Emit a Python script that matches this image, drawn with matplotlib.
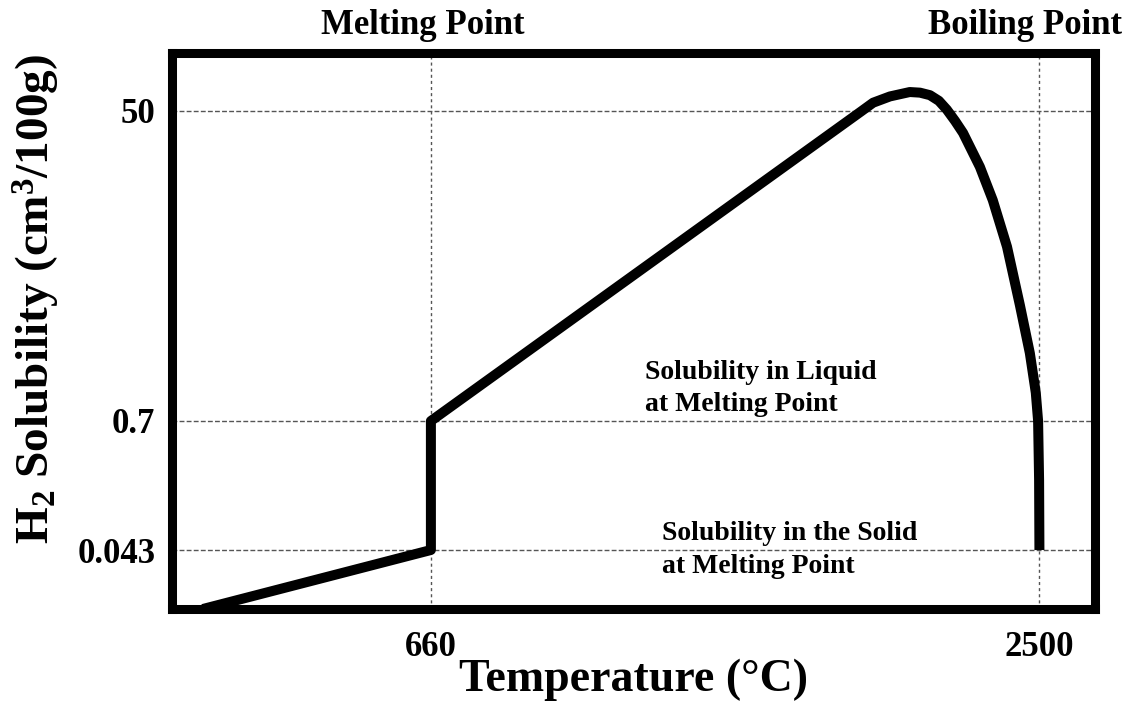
import numpy as np
import matplotlib
matplotlib.use("Agg")
import matplotlib.pyplot as plt

# hydrogen solubility in aluminium vs temperature (schematic)
temperature = [-30, 660, 660, 1963, 1997, 2048, 2108, 2139, 2169, 2196,
               2220, 2245, 2269, 2320, 2359, 2402, 2441, 2471, 2489, 2496,
               2499, 2500]
solubility = [0, 0.043, 0.7, 50.0, 51.3, 52.3, 53.0, 52.9, 52.5, 51.6,
              50.2, 48.4, 46.5, 41.1, 35.8, 28.4, 19.1, 11.5, 5.2, 0.7,
              0.40, 0.043]

x_ticks = [660, 2500]
x_tick_labels = ["660", "2500"]
y_ticks = [0.043, 0.7, 50]
y_tick_labels = ["0.043", "0.7", "50"]

plt.rcParams["font.family"] = "Liberation Serif"
plt.rcParams["font.weight"] = "bold"
plt.rcParams["axes.labelweight"] = "bold"
plt.rcParams["mathtext.fontset"] = "custom"
plt.rcParams["mathtext.rm"] = "Liberation Serif:bold"
plt.rcParams["mathtext.default"] = "rm"

# piecewise-linear solubility axis: each labelled band gets its own stretch
_vals = np.array([-1.0, 0.0, 0.043, 0.7, 50.0, 1000.0])
_pos = np.array([-1372.0, 0.0, 59.0, 188.0, 498.0, 498.0 + 950.0 * 6.288])


def fwd(v):
    return np.interp(v, _vals, _pos)


def inv(p):
    return np.interp(p, _pos, _vals)


fig = plt.figure(figsize=(11.38, 7.09), dpi=100)
ax = fig.add_axes([0.1511, 0.1410, 0.8111, 0.7842])
ax.set_yscale("function", functions=(fwd, inv))
ax.set_xlim(-123, 2668)
ax.set_ylim(0, 59.2)

ax.plot(temperature, solubility, color="black", lw=7.2,
        solid_joinstyle="round", solid_capstyle="butt", zorder=3)

ax.set_xticks(x_ticks)
ax.set_xticklabels(x_tick_labels)
ax.set_yticks(y_ticks)
ax.set_yticklabels(y_tick_labels)
ax.minorticks_off()
ax.tick_params(axis="x", length=0, pad=16, labelsize=25)
ax.tick_params(axis="y", length=0, pad=12, labelsize=25)

ax.xaxis.grid(True, color="#555555", lw=1.0, linestyle=(0, (2.2, 2.2)))
ax.yaxis.grid(True, color="#555555", lw=1.0, linestyle=(0, (3.5, 1.6)))
ax.set_axisbelow(True)

for side in ax.spines.values():
    side.set_linewidth(6.5)
    side.set_color("black")

ax.set_xlabel("Temperature (°C)", fontsize=33, labelpad=-4)
ax.set_ylabel(r"H$_2$ Solubility (cm$^3$/100g)", fontsize=34)
ax.yaxis.set_label_coords(-0.119, 0.5576)

ax.annotate("Solubility in Liquid\nat Melting Point", xy=(1307, 0.7),
            xytext=(0, 3), textcoords="offset points",
            ha="left", va="bottom", fontsize=20, linespacing=1.38)
ax.text(1358, 0.043, "Solubility in the Solid\nat Melting Point",
        ha="left", va="center", fontsize=20, linespacing=1.38)

fig.text(423 / 1138, 1 - 25 / 709, "Melting Point", ha="center", va="center",
         fontsize=25)
fig.text(1122 / 1138, 1 - 25 / 709, "Boiling Point", ha="right", va="center",
         fontsize=25)

fig.savefig("out.png", dpi=100)
